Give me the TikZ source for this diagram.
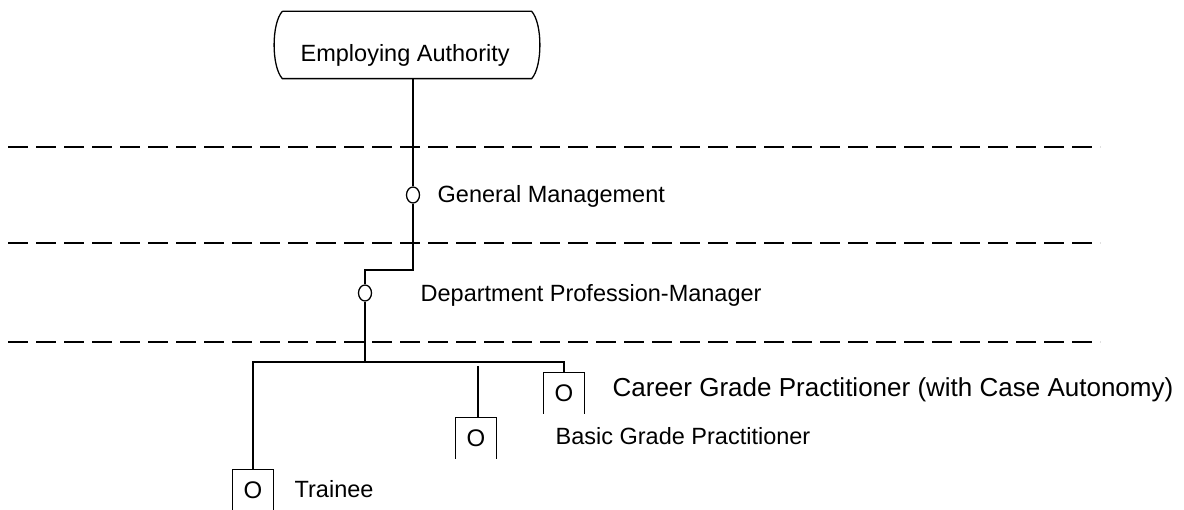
\documentclass[tikz,border=0pt]{standalone}
\usepackage{fontspec}
\setmainfont{Liberation Sans}
\usetikzlibrary{shapes.geometric}
\begin{document}
\begin{tikzpicture}[x=1pt,y=-1pt,
  line width=1.3pt,
  lbl/.style={anchor=base west,inner sep=0pt,font=\fontsize{23.5}{26}\selectfont},
  biglbl/.style={lbl,font=\fontsize{26}{29}\selectfont},
  posring/.style={ellipse,draw,minimum width=13pt,minimum height=16pt,inner sep=0pt},
  postbox/.style={minimum width=40pt,minimum height=40pt,inner sep=0pt,font=\fontsize{24}{26}\selectfont},
  level/.style={line width=1.1pt,dash pattern=on 20pt off 8pt}]
\useasboundingbox (0,0) rectangle (1184,510);

% level boundaries
\draw[level] (8,147) -- (1100,147);
\draw[level] (8,243) -- (1100,243);
\draw[level] (8,342) -- (1100,342);

% employing authority
\node[minimum width=248pt,minimum height=66pt,inner sep=0pt] (ea) at (407,45) {};
\node[lbl] (eat) at (300,62) {Employing Authority};
\draw (ea.north west) -- (ea.north east)
  .. controls ++(11,12) and ++(11,-12) .. (ea.south east)
  -- (ea.south west)
  .. controls ++(-11,-12) and ++(-11,12) .. (ea.north west);

% management positions
\node[posring] (gm) at (413,195) {};
\node[lbl] (gmt) at (437,203) {General Management};
\node[posring] (dpm) at (365,293) {};
\node[lbl] (dpmt) at (420,302) {Department Profession-Manager};

% practitioner posts
\node[postbox] (cg) at (564,393) {O};
\node[biglbl] (cgt) at (612,397) {Career Grade Practitioner (with Case Autonomy)};
\node[postbox] (bg) at (476,438) {O};
\node[lbl] (bgt) at (555,445) {Basic Grade Practitioner};
\node[postbox] (tr) at (253,490) {O};
\node[lbl] (trt) at (294,497) {Trainee};

% open-bottomed post outlines
\foreach \b in {cg,bg,tr}
  \draw (\b.south west) -- (\b.north west) -- (\b.north east) -- (\b.south east);

% reporting lines
\coordinate (j1) at (0,270);
\coordinate (bus) at (0,362);
\coordinate (bgtop) at (478,366);
\draw (ea.south -| gm.north) -- (gm.north);
\draw (gm.south) -- (gm.south |- j1) -- (dpm.north |- j1) -- (dpm.north);
\draw (dpm.south) -- (dpm.south |- bus);
\draw (tr.north) -- (tr.north |- bus) -- (cg.north |- bus) -- (cg.north);
\draw (bgtop) -- (bgtop |- bg.north);
\end{tikzpicture}
\end{document}
